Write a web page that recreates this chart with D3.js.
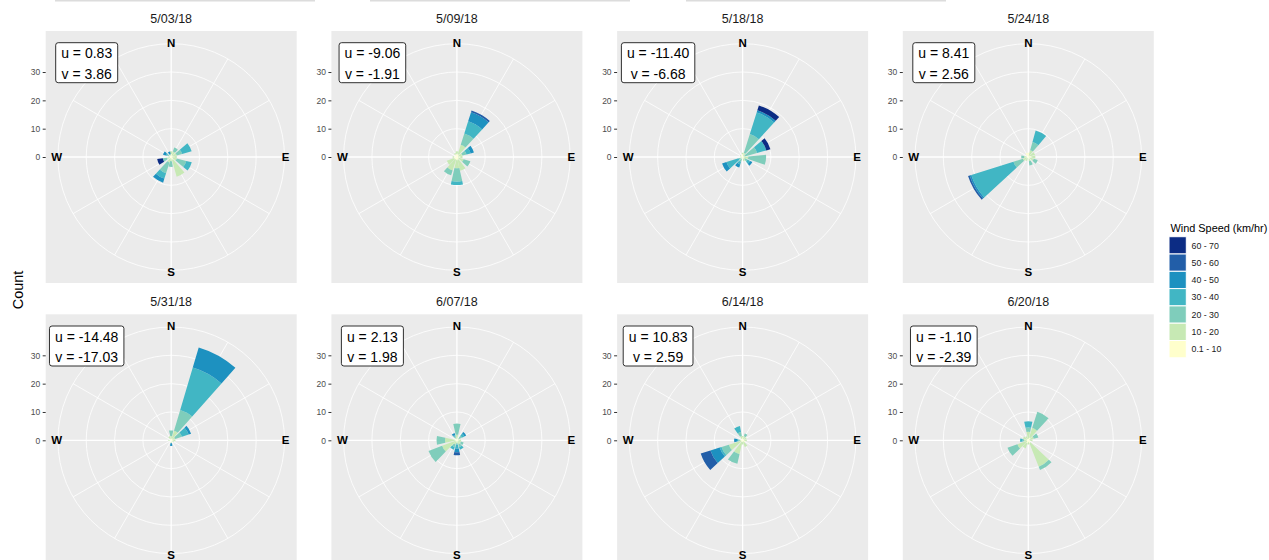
<!DOCTYPE html>
<html lang="en">

<head>
<meta http-equiv="Content-Type" content="text/html; charset=utf-8" />
<title>Wind Roses by Date</title>
<style>
   body { margin:0px; padding:0px; background:white; }
   svg { display:block; font-family:"Liberation Sans", Arial, sans-serif; }
   .strip { font-size:12.5px; fill:#1a1a1a; text-anchor:middle; }
   .compass { font-size:11.5px; font-weight:bold; fill:black; text-anchor:middle; dominant-baseline:central; }
   .uvlab { font-size:14px; fill:black; text-anchor:middle; }
   .raxis text { font-size:8.5px; fill:#4d4d4d; }
   .raxis line { stroke:#333333; }
   .legtitle { font-size:10.9px; fill:black; }
   .leglab { font-size:8.8px; fill:#1a1a1a; dominant-baseline:central; }
</style>
<script src="https://d3js.org/d3.v7.min.js"></script>
</head>

<body>
<svg id="main" width="1269" height="560"></svg>

<script>
var dates = ['5/03/18','5/09/18','5/18/18','5/24/18','5/31/18','6/07/18','6/14/18','6/20/18'];
var u_vals = ['0.83','-9.06','-11.40','8.41','-14.48','2.13','10.83','-1.10'];
var v_vals = ['3.86','-1.91','-6.68','2.56','-17.03','1.98','2.59','-2.39'];
var speed_bins = ['0.1 - 10','10 - 20','20 - 30','30 - 40','40 - 50','50 - 60','60 - 70'];
var speed_colors = ['#ffffcc','#c7e9b4','#7fcdbb','#41b6c4','#1d91c0','#225ea8','#0c2c84'];
var grid_dirs = [0,30,60,90,120,150,180,210,240,270,300,330];
var r_ticks = [0,10,20,30];
var r_circles = [10,20,30,40];
var compass_labels = ['N','E','S','W'];
var compass_dirs = [0,90,180,270];

//each row: [direction in degrees, then count in each speed bin from slowest upward]
var rose_0503 = [
   [0,1,1],[30,0.5,1.5,1.5],[62,0.5,1.5,2,3.5],[90,0.5,1.5],[117,0.5,1.5,3.5,2],
   [152,1,6.2],[183,0.5,1,2],[210,0.5,1.5,4,2,1.5],[249,0.5,1,1.5,0,0,0,2],
   [298,0.5,0.5,0.5,0.5,1],[337,0.5,0.5,0,0,1]
];
var rose_0509 = [
   [0,1,1],[30,1,3.5,4.2,4.5,3.4,0.6],[63,0.5,1.5,1.5,1.5,1.2],[90,1,1],[120,0.5,2,2.5],
   [155,1,4],[180,1,3,4.7,1.2],[210,1,4,1.8],[237,1,2.8],[270,1,0.5],[330,1,0.5]
];
var rose_0518 = [
   [0,1,0.5],[30,0.5,1,7,8,0.8,0,1.8],[62,0.3,0.5,4.5,3.4,0,0,1.5],[97,0.5,1.5,6.3],
   [130,0.3,0.7,1,1,0.9],[160,0.5,1],[210,0.3,0.5,1,1,1.1],[240,0.3,0.5,0.7,4.5,1.6],[300,0.5,0.5]
];
var rose_0524 = [
   [0,1.5],[28,0.5,2,3,4.2],[60,0.5,2],[90,1,1.5],[120,0.5,1.5,1.5],[160,0.5,1,1.5],
   [210,0.5,1],[240,0.5,1.5,3.5,15.6,0.6,0.6],[270,0.5,1,1],[330,1.5]
];
var rose_0531 = [
   [0,0.5,1,2],[29,0.7,2.8,7.7,15.6,7.4],[59,0.5,1,2.5,2.5,0.9],[90,0.5,1],[120,0.5,0.5],
   [180,0.5,0.5,0,0,1],[270,0.5,0.5],[330,0.5,1]
];
var rose_0607 = [
   [0,0.5,1.5,3.9],[50,0.5,0.5,1,1,0.7],[90,0.5,1],[120,0.5,1,1],[150,0.5,1,1,1],
   [180,0.3,0.7,0.5,1.5,1.2,1.1],[210,0.5,1,1,1],[237,0.5,5.1,5.1],[270,0.5,3.7,3],
   [330,0.5,0.5,0.5,0.5,0.7]
];
var rose_0614 = [
   [0,1,0.5],[30,0.5,1,1],[60,0.5,1],[90,0.5,1],[120,1],[150,0.5,2],[180,0.5,1],
   [205,0.5,4.5,3.5],[240,0.5,4.6,2.7,0.7,3.4,3.6],[270,0.5,0.5,0.5,0.5,1],[337,0.5,1,1.5,2.1]
];
var rose_0620 = [
   [0,0.5,2.5,1.5,2.2],[30,1,3.6,6],[62,0.5,1.5,1.7],[90,0.5,1],[146,1,9,1.3],[180,0.5,1],
   [210,1,2],[238,0.5,3.6,3.7],[270,0.5,1,0.5,0.9],[300,0.5,1.5],[330,0.5,1]
];
var roses = [rose_0503,rose_0509,rose_0518,rose_0524,rose_0531,rose_0607,rose_0614,rose_0620];

//layout of the 2 x 4 facet grid
var panel_x0 = 45.7, panel_dx = 285.7, panel_w = 251;
var panel_y0 = 31, panel_dy = 283.3, panel_h = 252;
var bar_width = 25; // degrees

var svg = d3.select('#main');
var rscale = d3.scaleLinear().domain([0,40]).range([0,113.3]);
function frad(deg) { return deg*Math.PI/180; };

//leftover strip borders from the figure above
[[55,315],[370,630],[686,946]].forEach(function(s) {
   svg.append('rect').attr('x',s[0]).attr('y',0).attr('width',s[1]-s[0]).attr('height',1.5).attr('fill','#dcdcdc');
});

function fpanel(i) {
   var col = i%4, row = Math.floor(i/4);
   var px = panel_x0+col*panel_dx, py = panel_y0+row*panel_dy;
   var cx = px+panel_w/2, cy = py+panel_h/2;
   var g = svg.append('g');

   g.append('text').attr('class','strip').attr('x',cx).attr('y',py-8.3).text(dates[i]);
   g.append('rect').attr('x',px).attr('y',py).attr('width',panel_w).attr('height',panel_h).attr('fill','#ebebeb');

   //grid circles and spokes
   g.selectAll('circle.grid').data(r_circles).enter().append('circle')
      .attr('cx',cx).attr('cy',cy).attr('r',d=>rscale(d))
      .attr('fill','none').attr('stroke','white').attr('stroke-width',0.8);
   g.selectAll('line.spoke').data(grid_dirs).enter().append('line')
      .attr('x1',cx).attr('y1',cy)
      .attr('x2',d=>cx+rscale(40)*Math.sin(frad(d)))
      .attr('y2',d=>cy-rscale(40)*Math.cos(frad(d)))
      .attr('stroke','white').attr('stroke-width',d=>(d%90===0)?1.3:0.8);

   //stacked wedges, one per direction
   var segs = [];
   roses[i].forEach(function(b) {
      var cum = 0;
      for (var k=1; k<b.length; k++) {
         if (b[k]>0) { segs.push({dir:b[0],lo:cum,hi:cum+b[k],bin:k-1}); };
         cum += b[k];
      };
   });
   var arc = d3.arc()
      .innerRadius(d=>rscale(d.lo)).outerRadius(d=>rscale(d.hi))
      .startAngle(d=>frad(d.dir-bar_width/2)).endAngle(d=>frad(d.dir+bar_width/2));
   g.append('g').attr('transform','translate('+cx+','+cy+')')
      .selectAll('path').data(segs).enter().append('path')
      .attr('d',arc).attr('fill',d=>speed_colors[d.bin]);

   //compass labels
   g.selectAll('text.compass').data(compass_dirs).enter().append('text')
      .attr('class','compass')
      .attr('x',d=>cx+114.5*Math.sin(frad(d)))
      .attr('y',d=>cy-114.5*Math.cos(frad(d)))
      .text((d,j)=>compass_labels[j]);

   //radial axis on the left
   var yscale = d3.scaleLinear().domain([0,40]).range([cy,cy-rscale(40)]);
   var ax = g.append('g').attr('class','raxis').attr('transform','translate('+px+',0)')
      .call(d3.axisLeft(yscale).tickValues(r_ticks).tickSize(3).tickPadding(2.5));
   ax.select('.domain').remove();

   //u / v label box
   var lx = px+41, ly = py+27.3;
   var box = g.append('rect').attr('fill','white').attr('stroke','#1a1a1a').attr('stroke-width',0.9).attr('rx',2.5);
   var t1 = g.append('text').attr('class','uvlab').attr('x',lx).attr('y',ly).text('u = '+u_vals[i]);
   var t2 = g.append('text').attr('class','uvlab').attr('x',lx).attr('y',ly+20.7).text('v = '+v_vals[i]);
   var tw = Math.max(t1.node().getComputedTextLength(),t2.node().getComputedTextLength());
   box.attr('x',lx-tw/2-5.5).attr('y',ly-15.6).attr('width',tw+11).attr('height',40);
};
for (var i=0; i<dates.length; i++) { fpanel(i); };

//y axis title
svg.append('text').attr('transform','translate(23,290) rotate(-90)')
   .attr('text-anchor','middle').attr('font-size','14.5px').attr('fill','black').text('Count');

//legend
var leg = svg.append('g').attr('transform','translate(1169,236.7)');
leg.append('text').attr('class','legtitle').attr('x',1.5).attr('y',-4.3).text('Wind Speed (km/hr)');
var keyorder = d3.range(speed_bins.length).reverse();
leg.selectAll('rect').data(keyorder).enter().append('rect')
   .attr('x',0).attr('y',(d,j)=>j*17.3).attr('width',17.3).attr('height',17.3)
   .attr('fill',d=>speed_colors[d]).attr('stroke','white').attr('stroke-width',1);
leg.selectAll('text.leglab').data(keyorder).enter().append('text')
   .attr('class','leglab').attr('x',22.5).attr('y',(d,j)=>j*17.3+8.9).text(d=>speed_bins[d]);
</script>
</body>
</html>
